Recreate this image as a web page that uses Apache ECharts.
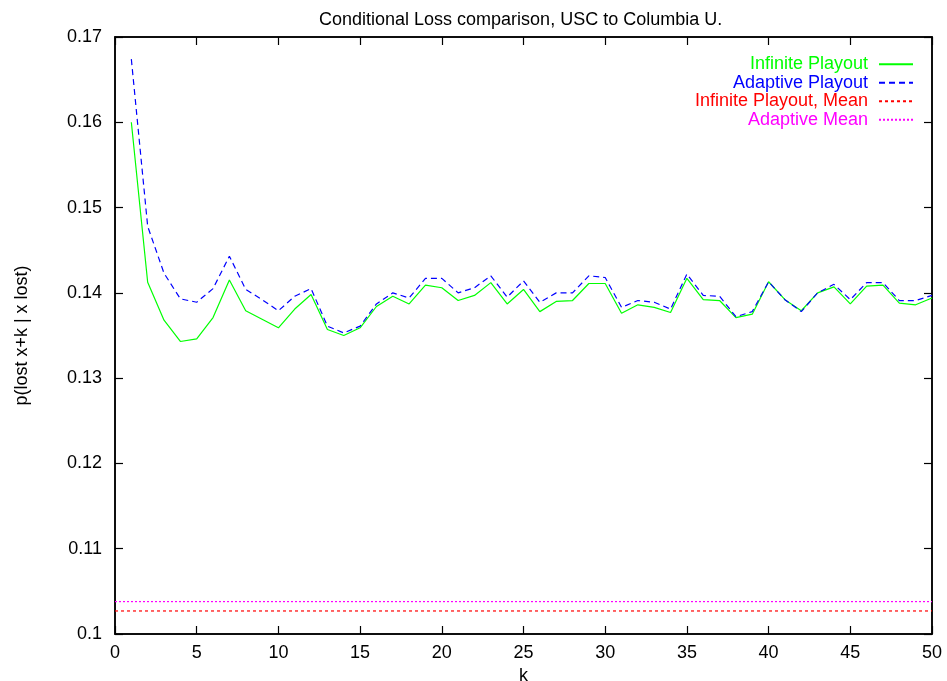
<!DOCTYPE html>
<html>
<head>
<meta charset="utf-8">
<script src="https://cdn.jsdelivr.net/npm/echarts@6/dist/echarts.min.js"></script>
<style>
  html, body { margin: 0; padding: 0; background: #fff; }
  #chart { width: 947px; height: 681px; }
</style>
</head>
<body>
<div id="chart"></div>
<script>
// lag k between the two losses
const lags = [1, 2, 3, 4, 5, 6, 7, 8, 9, 10, 11, 12, 13, 14, 15, 16, 17, 18, 19, 20,
  21, 22, 23, 24, 25, 26, 27, 28, 29, 30, 31, 32, 33, 34, 35, 36, 37, 38, 39, 40,
  41, 42, 43, 44, 45, 46, 47, 48, 49, 50];

// p(lost x+k | x lost), infinite playout buffer
const infinitePlayout = [0.1600, 0.14125, 0.1368, 0.1343, 0.1346, 0.1371, 0.1415, 0.1379, 0.1369, 0.1359,
  0.1381, 0.1398, 0.1357, 0.1350, 0.1359, 0.1384, 0.1396, 0.1387, 0.1409, 0.1406,
  0.1391, 0.1397, 0.1412, 0.1387, 0.1404, 0.1378, 0.1390, 0.1391, 0.1411, 0.1411,
  0.1376, 0.1386, 0.1383, 0.1377, 0.1417, 0.1392, 0.1391, 0.1371, 0.1375, 0.1413,
  0.1392, 0.1379, 0.1400, 0.1407, 0.1387, 0.1408, 0.1409, 0.1388, 0.1386, 0.1394];

// p(lost x+k | x lost), adaptive playout buffer
const adaptivePlayout = [0.1674, 0.1478, 0.1423, 0.1393, 0.1389, 0.1405, 0.1443, 0.1404, 0.1392, 0.1379,
  0.1396, 0.1405, 0.1361, 0.1353, 0.1361, 0.1387, 0.1400, 0.1394, 0.1417, 0.1417,
  0.1400, 0.1406, 0.1420, 0.1395, 0.1414, 0.1389, 0.1400, 0.1400, 0.1420, 0.1418,
  0.1383, 0.1391, 0.1389, 0.1381, 0.1422, 0.1397, 0.1396, 0.1372, 0.1378, 0.1413,
  0.1392, 0.1378, 0.1400, 0.1410, 0.1392, 0.1412, 0.1412, 0.1391, 0.1391, 0.1397];

// unconditional loss rates
const infiniteMean = 0.1027;
const adaptiveMean = 0.1038;

// axis ranges
const kRange = [0, 50];
const pRange = [0.1, 0.17];

const FONT = '"Liberation Sans", Arial, Helvetica, sans-serif';

const pairs = (xs, ys) => xs.map((x, i) => [x, ys[i]]);
const flat = (v) => kRange.map(x => [x, v]);
const fmtP = (v) => String(+v.toFixed(2));

// fresh style objects for each axis
const baseLine = () => ({ show: true, onZero: false, lineStyle: { color: '#000', width: 1.5 } });
const tickIn = () => ({ show: true, inside: true, length: 8, lineStyle: { color: '#000', width: 1.2 } });

const chart = echarts.init(document.getElementById('chart'), null, { renderer: 'canvas' });
chart.setOption({
  backgroundColor: '#fff',
  animation: false,
  textStyle: { fontFamily: FONT },
  title: {
    text: 'Conditional Loss comparison, USC to Columbia U.',
    left: 314,
    top: 6,
    textStyle: { fontFamily: FONT, fontSize: 18, fontWeight: 'normal', color: '#000' }
  },
  legend: {
    orient: 'vertical',
    right: 28,
    top: 50,
    align: 'right',
    itemWidth: 34,
    itemHeight: 10,
    itemGap: 0,
    itemStyle: { opacity: 0 },
    textStyle: { fontFamily: FONT, fontSize: 18, lineHeight: 18.5, padding: [0, 6, 0, 0] },
    data: [
      { name: 'Infinite Playout', textStyle: { color: '#00ff00' } },
      { name: 'Adaptive Playout', textStyle: { color: '#0000ff' } },
      { name: 'Infinite Playout, Mean', textStyle: { color: '#ff0000' } },
      { name: 'Adaptive Mean', textStyle: { color: '#ff00ff' } }
    ]
  },
  grid: {
    left: 115, right: 15, top: 37, bottom: 47,
    outerBoundsMode: 'none', containLabel: false,
    show: true, borderColor: '#000', borderWidth: 1.5
  },
  xAxis: [
    {
      type: 'value', position: 'bottom', min: kRange[0], max: kRange[1], interval: 5,
      name: 'k', nameLocation: 'middle', nameGap: 29,
      nameTextStyle: { fontFamily: FONT, fontSize: 18, color: '#000' },
      axisLine: baseLine(), axisTick: tickIn(),
      axisLabel: { fontFamily: FONT, fontSize: 18, color: '#000', margin: 10 },
      splitLine: { show: false }
    },
    {
      type: 'value', position: 'top', min: kRange[0], max: kRange[1], interval: 5,
      axisLine: baseLine(), axisTick: tickIn(), axisLabel: { show: false }, splitLine: { show: false }
    }
  ],
  yAxis: [
    {
      type: 'value', position: 'left', min: pRange[0], max: pRange[1], interval: 0.01,
      name: 'p(lost x+k | x lost)', nameLocation: 'middle', nameGap: 84,
      nameTextStyle: { fontFamily: FONT, fontSize: 18, color: '#000' },
      axisLine: baseLine(), axisTick: tickIn(),
      axisLabel: { fontFamily: FONT, fontSize: 18, color: '#000', margin: 13, formatter: fmtP },
      splitLine: { show: false }
    },
    {
      type: 'value', position: 'right', min: pRange[0], max: pRange[1], interval: 0.01,
      axisLine: baseLine(), axisTick: tickIn(), axisLabel: { show: false }, splitLine: { show: false }
    }
  ],
  series: [
    {
      name: 'Infinite Playout', type: 'line', showSymbol: false, symbol: 'none',
      data: pairs(lags, infinitePlayout),
      lineStyle: { color: '#00ff00', width: 1.2 }, itemStyle: { color: '#00ff00' }, z: 3
    },
    {
      name: 'Adaptive Playout', type: 'line', showSymbol: false, symbol: 'none',
      data: pairs(lags, adaptivePlayout),
      lineStyle: { color: '#0000ff', width: 1.2, type: [6, 4] }, itemStyle: { color: '#0000ff' }, z: 4
    },
    {
      name: 'Infinite Playout, Mean', type: 'line', showSymbol: false, symbol: 'none',
      data: flat(infiniteMean),
      lineStyle: { color: '#ff0000', width: 1.2, type: [3, 3] }, itemStyle: { color: '#ff0000' }
    },
    {
      name: 'Adaptive Mean', type: 'line', showSymbol: false, symbol: 'none',
      data: flat(adaptiveMean),
      lineStyle: { color: '#ff00ff', width: 1.2, type: [2, 2] }, itemStyle: { color: '#ff00ff' }
    }
  ]
});
</script>
</body>
</html>
